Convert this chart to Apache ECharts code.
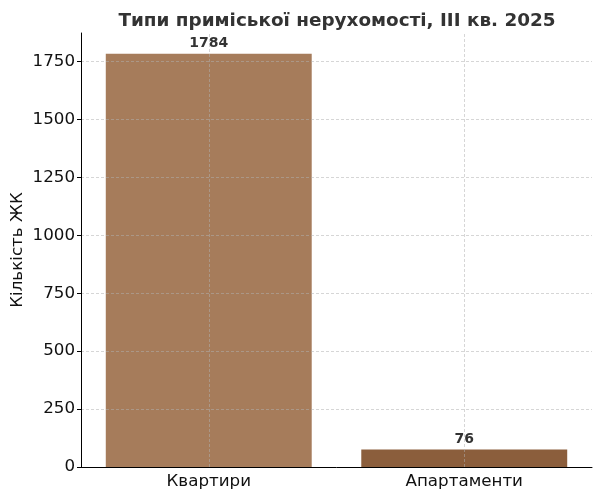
<!DOCTYPE html>
<html>
<head>
<meta charset="utf-8">
<script src="https://cdn.jsdelivr.net/npm/echarts@6/dist/echarts.min.js"></script>
<style>html,body{margin:0;padding:0;background:#fff}#c{width:602px;height:500px}</style>
</head>
<body>
<div id="c"></div>
<script>
const categories = ['Квартири', 'Апартаменти'];
const values = [1784, 76];
const barColors = ['#a67c5b', '#8b5e3c'];
const yTicks = [0, 250, 500, 750, 1000, 1250, 1500, 1750];
const titleText = 'Типи приміської нерухомості, III кв. 2025';
const yName = 'Кількість ЖК';

const chart = echarts.init(document.getElementById('c'), null, {renderer: 'canvas'});
const font = 'DejaVu Sans';
const gridLine = {color: 'rgba(176,176,176,0.65)', type: [3, 2], width: 0.8};
chart.setOption({
  animation: false,
  title: {
    text: titleText, left: 332, top: 7, textAlign: 'center',
    textStyle: {fontFamily: font, fontSize: 18.4, fontWeight: 'bold', color: '#333'}
  },
  grid: {left: 81, right: 10, top: 33, bottom: 33, containLabel: false, outerBoundsMode: 'none'},
  xAxis: {
    type: 'category', data: categories, z: 3,
    axisLine: {lineStyle: {color: '#000', width: 1}},
    axisTick: {alignWithLabel: true, inside: true, length: 4, lineStyle: {color: '#000'}},
    axisLabel: {fontFamily: font, fontSize: 16.7, color: '#111', margin: 6},
    splitLine: {show: false}
  },
  yAxis: {
    type: 'value', min: 0, max: 1873.2, interval: 250, z: 3,
    name: yName, nameLocation: 'middle', nameGap: 55, nameRotate: 90, nameMoveOverlap: false,
    nameTextStyle: {fontFamily: font, fontSize: 16.7, color: '#111'},
    axisLine: {show: true, lineStyle: {color: '#000', width: 1}},
    axisTick: {show: true, length: 4, lineStyle: {color: '#000'}, customValues: yTicks},
    axisLabel: {fontFamily: font, fontSize: 16.7, color: '#111', margin: 6,
      customValues: yTicks,
      formatter: v => yTicks.includes(v) ? String(v) : ''},
    splitLine: {show: true, lineStyle: gridLine}
  },
  series: [{
    type: 'bar', barWidth: '80.6%',
    data: values.map((v, i) => ({value: v, itemStyle: {color: barColors[i]}})),
    label: {show: true, position: 'top', distance: 3, fontFamily: font, fontSize: 14, fontWeight: 'bold', color: '#333'},
    markLine: {
      silent: true, symbol: 'none', label: {show: false},
      lineStyle: gridLine,
      data: categories.map(c => ({xAxis: c}))
    }
  }]
});
</script>
</body>
</html>
